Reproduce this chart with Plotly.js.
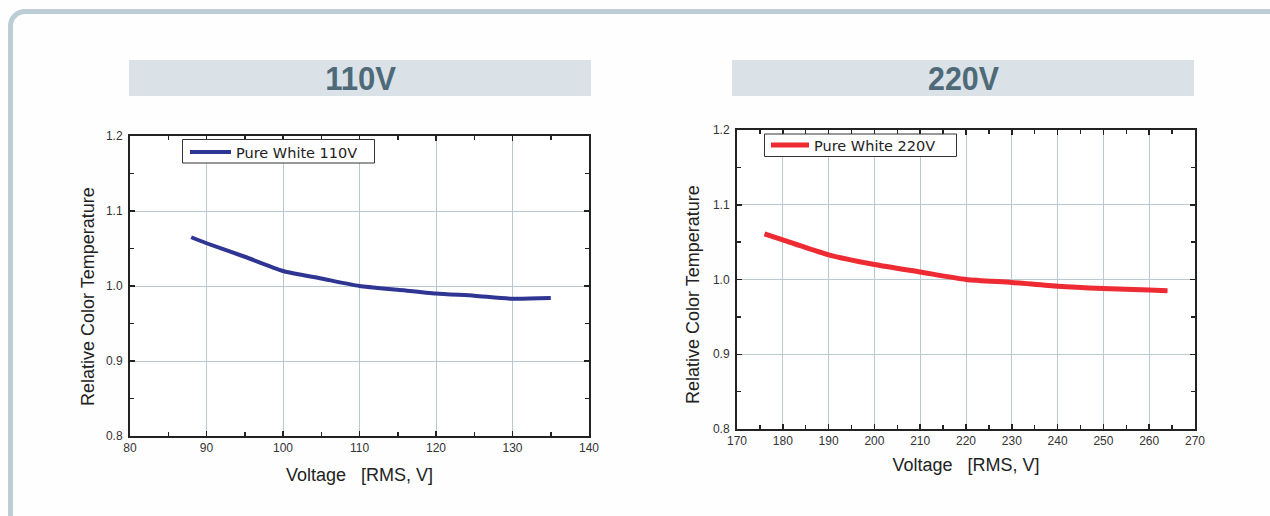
<!DOCTYPE html>
<html>
<head>
<meta charset="utf-8">
<script src="https://cdn.plot.ly/plotly-3.0.1.min.js"></script>
<style>
  html, body { margin: 0; padding: 0; background: #fefefe; overflow: hidden; }
  #wrap { position: relative; width: 1270px; height: 516px; }
  #frame { position: absolute; left: 8px; top: 9px; width: 1264px; height: 540px;
           border-top: 5px solid #bccdd6; border-left: 5px solid #bccdd6;
           border-top-left-radius: 17px; box-sizing: border-box; }
  #chart { position: absolute; left: 0; top: 0; width: 1270px; height: 516px; }
</style>
</head>
<body>
<div id="wrap">
  <div id="frame"></div>
  <div id="chart"></div>
</div>
<script>
// ---- data ----
const voltage110 = [88, 90, 95, 100, 105, 110, 115, 120, 125, 130, 135];
const relTemp110 = [1.065, 1.057, 1.039, 1.020, 1.010, 1.000, 0.995, 0.990, 0.987, 0.983, 0.984];

const voltage220 = [176, 180, 190, 200, 210, 220, 230, 240, 250, 260, 264];
const relTemp220 = [1.061, 1.053, 1.033, 1.020, 1.010, 1.000, 0.996, 0.991, 0.988, 0.986, 0.985];

const seriesNames = ['Pure White 110V', 'Pure White 220V'];
const panelTitles = ['110V', '220V'];
const xTitle = 'Voltage\u00a0\u00a0\u00a0[RMS, V]';
const yTitle = 'Relative Color Temperature';

// ---- layout helpers ----
const W = 1270, H = 516;
const px = x => x / W;
const py = y => (H - y) / H;

const baseFamily = 'Liberation Sans, Arial, sans-serif';
const tickFont = () => ({ family: baseFamily, size: 12, color: '#333' });
const titleFont = () => ({ family: baseFamily, size: 18, color: '#222' });
const legendFont = () => ({ family: 'DejaVu Sans, Liberation Sans, sans-serif', size: 14.5, color: '#222' });

function xAxis(domain, range, anchor, standoff) {
  return {
    domain: domain, range: range, anchor: anchor,
    tick0: range[0], dtick: 10, ticks: 'inside', ticklen: 5, tickwidth: 1.5, tickcolor: '#222',
    showline: true, linewidth: 2, linecolor: '#222', mirror: 'ticks',
    showgrid: true, gridcolor: '#bac8cf', gridwidth: 1, zeroline: false,
    minor: { dtick: 5, ticks: 'inside', ticklen: 4, tickwidth: 1.5, tickcolor: '#222', showgrid: false },
    tickfont: tickFont(), fixedrange: true,
    title: { text: xTitle, font: titleFont(), standoff: standoff }
  };
}
function yAxis(domain, anchor) {
  return {
    domain: domain, range: [0.8, 1.2], anchor: anchor,
    tick0: 0.8, dtick: 0.1, tickformat: '.1f', ticks: 'inside', ticklen: 5, tickwidth: 1.5, tickcolor: '#222',
    showline: true, linewidth: 2, linecolor: '#222', mirror: 'ticks',
    showgrid: true, gridcolor: '#bac8cf', gridwidth: 1, zeroline: false,
    minor: { dtick: 0.05, ticks: 'inside', ticklen: 4, tickwidth: 1.5, tickcolor: '#222', showgrid: false },
    tickfont: tickFont(), fixedrange: true, ticklabelstandoff: 3
  };
}

const traces = [
  { x: voltage110, y: relTemp110, name: seriesNames[0], type: 'scatter', mode: 'lines',
    line: { color: '#2f3593', width: 4, shape: 'spline', smoothing: 0.6 }, xaxis: 'x', yaxis: 'y', legend: 'legend' },
  { x: voltage220, y: relTemp220, name: seriesNames[1], type: 'scatter', mode: 'lines',
    line: { color: '#ee2a32', width: 5, shape: 'spline', smoothing: 0.6 }, xaxis: 'x2', yaxis: 'y2', legend: 'legend2' }
];

const headerFont = () => ({ family: baseFamily, size: 33, color: '#4e6a78', weight: 'bold' });

const layout = {
  width: W, height: H,
  font: { family: baseFamily, size: 14, color: '#222' },
  margin: { l: 0, r: 0, t: 0, b: 0, pad: 0 },
  paper_bgcolor: 'rgba(0,0,0,0)', plot_bgcolor: '#ffffff',
  showlegend: true,
  xaxis: xAxis([px(130), px(589)], [80, 140], 'y', 14),
  yaxis: yAxis([py(436), py(136)], 'x'),
  xaxis2: xAxis([px(737), px(1195)], [170, 270], 'y2', 11),
  yaxis2: yAxis([py(429), py(130)], 'x2'),
  legend: { bgcolor: 'rgba(0,0,0,0)', borderwidth: 0, font: legendFont(), xanchor: 'left', yanchor: 'top',
            x: px(185), y: py(136), itemwidth: 41 },
  legend2: { bgcolor: 'rgba(0,0,0,0)', borderwidth: 0, font: legendFont(), xanchor: 'left', yanchor: 'top',
             x: px(766), y: py(129), itemwidth: 38 },
  shapes: [
    // header bands
    { type: 'rect', xref: 'paper', yref: 'paper', x0: px(129), x1: px(591), y0: py(96), y1: py(60),
      fillcolor: '#dae1e7', line: { width: 0 }, layer: 'below' },
    { type: 'rect', xref: 'paper', yref: 'paper', x0: px(732), x1: px(1194), y0: py(96), y1: py(60),
      fillcolor: '#dae1e7', line: { width: 0 }, layer: 'below' },
    // legend boxes
    { type: 'rect', xref: 'paper', yref: 'paper', x0: px(182.5), x1: px(374.5), y0: py(163), y1: py(139.5),
      fillcolor: '#ffffff', line: { width: 1, color: '#333' }, layer: 'above' },
    { type: 'rect', xref: 'paper', yref: 'paper', x0: px(764.5), x1: px(956.5), y0: py(156.5), y1: py(134),
      fillcolor: '#ffffff', line: { width: 1, color: '#333' }, layer: 'above' }
  ],
  annotations: [
    { xref: 'paper', yref: 'paper', x: px(360), y: py(78), text: panelTitles[0], showarrow: false,
      xanchor: 'center', yanchor: 'middle', font: headerFont() },
    { xref: 'paper', yref: 'paper', x: px(963), y: py(78), text: panelTitles[1], showarrow: false,
      xanchor: 'center', yanchor: 'middle', font: headerFont() },
    { xref: 'paper', yref: 'paper', x: px(88), y: py(297), text: yTitle, textangle: -90, showarrow: false,
      xanchor: 'center', yanchor: 'middle', font: titleFont() },
    { xref: 'paper', yref: 'paper', x: px(693), y: py(295), text: yTitle, textangle: -90, showarrow: false,
      xanchor: 'center', yanchor: 'middle', font: titleFont() }
  ]
};

Plotly.newPlot('chart', traces, layout, { displayModeBar: false, staticPlot: true }).then(gd => {
  // condensed look for the header captions
  gd.querySelectorAll('.annotation-text').forEach(t => {
    if (panelTitles.includes(t.textContent)) {
      t.setAttribute('textLength', '71');
      t.setAttribute('lengthAdjust', 'spacingAndGlyphs');
    }
  });
});
</script>
</body>
</html>
